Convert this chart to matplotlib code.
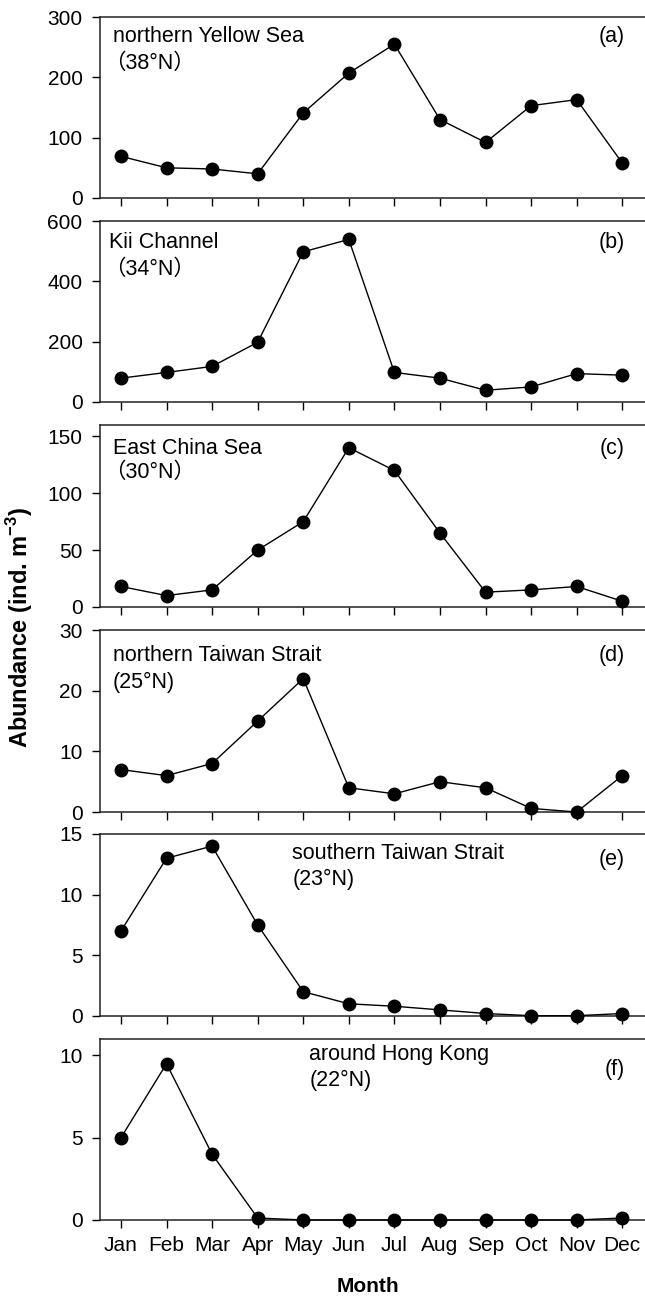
import matplotlib
matplotlib.use("Agg")
import matplotlib.pyplot as plt
import matplotlib.transforms as mtransforms

plt.rcParams['font.family'] = ['Liberation Sans', 'Noto Sans CJK SC', 'DejaVu Sans']
plt.rcParams['mathtext.fontset'] = 'custom'
plt.rcParams['mathtext.rm'] = 'Liberation Sans'
plt.rcParams['mathtext.bf'] = 'Liberation Sans:bold'

months = ['Jan', 'Feb', 'Mar', 'Apr', 'May', 'Jun', 'Jul', 'Aug', 'Sep', 'Oct', 'Nov', 'Dec']

yellow_sea = [69, 50, 48, 40, 141, 207, 255, 130, 92, 153, 163, 58]
kii_channel = [79, 98, 118, 198, 498, 539, 98, 79, 39, 50, 94, 89]
east_china_sea = [18, 10, 15, 50, 75, 140, 120, 65, 13, 15, 18, 5]
n_taiwan = [7, 6, 8, 15, 22, 4, 3, 5, 4, 0.6, 0, 6]
s_taiwan = [7, 13, 14, 7.5, 2, 1, 0.8, 0.5, 0.2, 0.02, 0.02, 0.2]
hong_kong = [5, 9.5, 4, 0.12, 0, 0, 0, 0, 0, 0, 0, 0.12]

series = [yellow_sea, kii_channel, east_china_sea, n_taiwan, s_taiwan, hong_kong]
names = ['northern Yellow Sea', 'Kii Channel', 'East China Sea',
         'northern Taiwan Strait', 'southern Taiwan Strait', 'around Hong Kong']
lats = ['（38°N）', '（34°N）', '（30°N）', '(25°N)', '(23°N)', '(22°N)']
tags = ['(a)', '(b)', '(c)', '(d)', '(e)', '(f)']
yticks = [[0, 100, 200, 300], [0, 200, 400, 600], [0, 50, 100, 150],
          [0, 10, 20, 30], [0, 5, 10, 15], [0, 5, 10]]
ytop = [300, 600, 160, 30, 15, 11]

# layout (figure fractions) and label placement per panel
bottoms = [0.8475, 0.6903, 0.5324, 0.3744, 0.2173, 0.0601]
heights = [0.1394, 0.1394, 0.1402, 0.1402, 0.1402, 0.1394]
name_x = [0.82, 0.74, 0.82, 0.82, 4.76, 5.13]
lat_x = [0.64, 0.64, 0.64, 0.82, 4.76, 5.13]
name_y = [0.89, 0.88, 0.87, 0.86, 0.895, 0.917]
lat_y = [0.746, 0.73, 0.74, 0.71, 0.75, 0.773]
tag_y = [0.89, 0.88, 0.87, 0.86, 0.857, 0.834]

fig = plt.figure(figsize=(6.45, 12.98), dpi=100)
x = list(range(1, 13))

for i in range(6):
    ax = fig.add_axes([0.155, bottoms[i], 0.85, heights[i]])
    ax.plot(x, series[i], color='black', linewidth=1.0, marker='o',
            markersize=9, clip_on=False, zorder=3)
    ax.set_xlim(0.54, 12.57)
    ax.set_ylim(0, ytop[i])
    ax.set_yticks(yticks[i])
    ax.set_xticks(x)
    if i == 5:
        ax.set_xticklabels(months)
    else:
        ax.set_xticklabels([])
    ax.tick_params(direction='out', length=5.5, width=1, labelsize=15)
    ax.tick_params(axis='y', pad=7)
    ax.tick_params(axis='x', pad=6)
    for s in ax.spines.values():
        s.set_linewidth(1.1)
        s.set_color('#222222')
    tr = mtransforms.blended_transform_factory(ax.transData, ax.transAxes)
    ax.text(name_x[i], name_y[i], names[i], transform=tr, fontsize=15.5,
            ha='left', va='center')
    ax.text(lat_x[i], lat_y[i], lats[i], transform=tr, fontsize=15.5,
            ha='left', va='center')
    ax.text(12.05, tag_y[i], tags[i], transform=tr, fontsize=15.5,
            ha='right', va='center')

fig.text(0.031, 0.517, r'Abundance (ind. m$^{\mathbf{-3}}$)', rotation=90,
         fontsize=17, fontweight='bold', ha='center', va='center')
fig.text(0.57, 0.0085, 'Month', fontsize=15, fontweight='bold',
         ha='center', va='center')

fig.savefig('out.png', dpi=100)
